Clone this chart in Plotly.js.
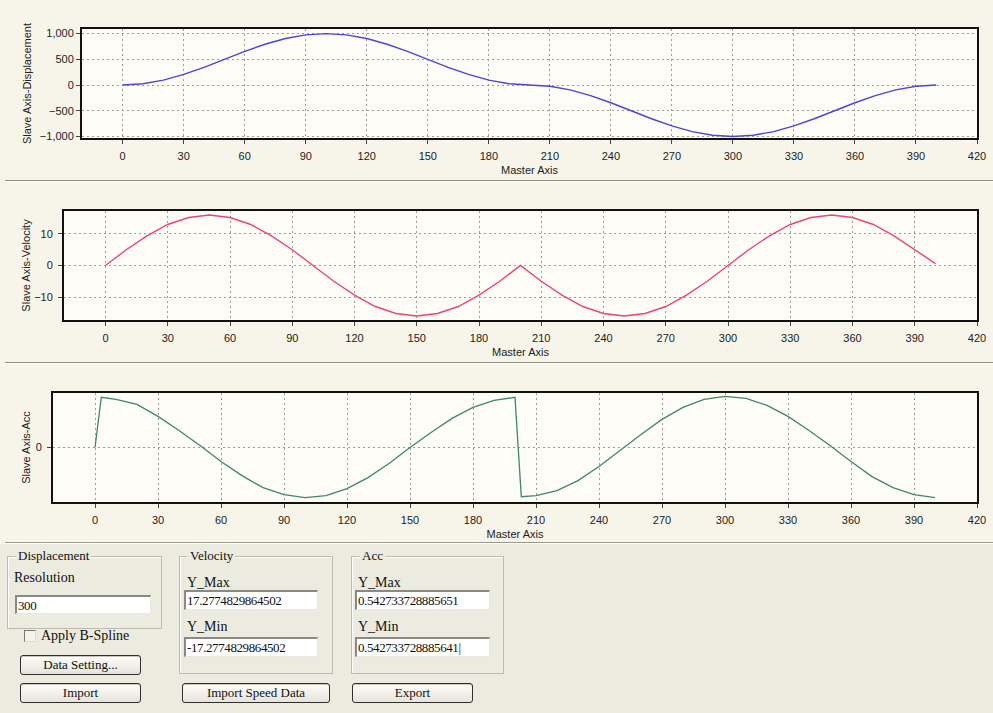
<!DOCTYPE html>
<html>
<head>
<meta charset="utf-8">
<script src="https://cdn.plot.ly/plotly-3.0.1.min.js"></script>
<style>
  html, body { margin:0; padding:0; width:993px; height:713px; overflow:hidden; background:#f7f5e9; }
  #chart { position:absolute; left:0; top:0; width:993px; height:543px; }
  .sep { position:absolute; left:5px; width:988px; height:0; border-top:1px solid #8f8e86; border-bottom:1px solid #ffffff; }
  #panel { position:absolute; left:0; top:544px; width:993px; height:169px; background:#ecebdf; color:#111; }
  #panel, #panel div { font-family:'Liberation Serif', 'Times New Roman', Times, serif; }
  .grp { position:absolute; border:1px solid #bdbbad; box-shadow:1px 1px 0 #fff inset; }
  .gt { position:absolute; top:-9px; left:8px; padding:0 2px; background:#ecebdf; line-height:16px; font-size:13px; }
  .lbl { position:absolute; line-height:16px; font-size:14px; }
  .box { position:absolute; background:#fff; border-top:2px solid #8a8a84; border-left:2px solid #8a8a84; border-bottom:1px solid #e8e8e0; border-right:1px solid #e8e8e0; box-sizing:border-box; padding-left:1px; line-height:17px; font-size:13px; letter-spacing:-0.4px; }
  .btn { position:absolute; box-sizing:border-box; border:1px solid #2f2f2f; border-radius:3px; background:linear-gradient(#fdfdfa, #e6e4da); text-align:center; line-height:17px; font-size:13px; box-shadow:0 1px 0 #c9c7bb inset; }
  .chk { position:absolute; width:10px; height:10px; border-top:1px solid #777; border-left:1px solid #777; border-right:1px solid #ddd; border-bottom:1px solid #ddd; background:#f4f3ec; }
</style>
</head>
<body>
<div id="chart"></div>
<div class="sep" style="top:180px"></div>
<div class="sep" style="top:362px"></div>
<div class="sep" style="top:542px; border-top-color:#9a998f"></div>
<div id="panel">
  <div class="grp" style="left:7px; top:12px; width:153px; height:71px;">
    <div class="gt">Displacement</div>
  </div>
  <div class="lbl" style="left:14px; top:26px;">Resolution</div>
  <div class="box" style="left:15px; top:51px; width:136px; height:19px;">300</div>
  <div class="chk" style="left:24px; top:86px;"></div>
  <div class="lbl" style="left:41px; top:84px;">Apply B-Spline</div>
  <div class="btn" style="left:20px; top:111px; width:121px; height:20px;">Data Setting...</div>
  <div class="btn" style="left:20px; top:139px; width:121px; height:20px;">Import</div>

  <div class="grp" style="left:179px; top:12px; width:152px; height:116px;">
    <div class="gt">Velocity</div>
  </div>
  <div class="lbl" style="left:187px; top:31px;">Y_Max</div>
  <div class="box" style="left:184px; top:46px; width:134px; height:20px;">17.2774829864502</div>
  <div class="lbl" style="left:187px; top:75px;">Y_Min</div>
  <div class="box" style="left:184px; top:93px; width:134px; height:20px;">-17.2774829864502</div>
  <div class="btn" style="left:182px; top:139px; width:148px; height:20px;">Import Speed Data</div>

  <div class="grp" style="left:351px; top:12px; width:151px; height:116px;">
    <div class="gt">Acc</div>
  </div>
  <div class="lbl" style="left:358px; top:31px;">Y_Max</div>
  <div class="box" style="left:355px; top:46px; width:135px; height:20px;">0.542733728885651</div>
  <div class="lbl" style="left:358px; top:75px;">Y_Min</div>
  <div class="box" style="left:355px; top:93px; width:135px; height:20px;">0.542733728885641|</div>
  <div class="btn" style="left:352px; top:139px; width:121px; height:20px;">Export</div>
</div>
<script>
// ---- data ----
const masterX = [0,10,20,30,40,50,60,70,80,90,100,110,120,130,140,150,160,170,180,190,200,
                 210,220,230,240,250,260,270,280,290,300,310,320,330,340,350,360,370,380,390,400];
const displacement = [0,24,95,206,345,500,655,794,905,976,1000,976,905,794,655,500,345,206,95,24,0,
                      -24,-95,-206,-345,-500,-655,-794,-905,-976,-1000,-976,-905,-794,-655,-500,-345,-206,-95,-24,0];
const velocity = [0,5,9.4,13,15.2,16,15.2,13,9.4,5,0,-5,-9.4,-13,-15.2,-16,-15.2,-13,-9.4,-5,0,
                  -5,-9.4,-13,-15.2,-16,-15.2,-13,-9.4,-5,0,5,9.4,13,15.2,16,15.2,13,9.4,5,0.6];
const accX = [0,3,10,20,30,40,50,60,70,80,90,100,110,120,130,140,150,160,170,180,190,200,
              203,210,220,230,240,250,260,270,280,290,300,310,320,330,340,350,360,370,380,390,400];
const acc = [0,0.50,0.48,0.43,0.31,0.17,0.02,-0.14,-0.28,-0.40,-0.47,-0.50,-0.48,-0.41,-0.30,-0.16,0.00,0.15,0.29,0.40,0.47,0.50,
             -0.49,-0.48,-0.43,-0.33,-0.19,-0.03,0.13,0.28,0.40,0.48,0.51,0.49,0.42,0.31,0.17,0.02,-0.14,-0.29,-0.40,-0.47,-0.50];
const velYMax = 17.2774829864502, velYMin = -17.2774829864502;
const accYMax = 0.542733728885651, accYMin = -0.542733728885651;

const H = 543, W = 993;
const fy = (top, bot) => [1 - bot / H, 1 - top / H];
const fx = (l, r) => [l / W, r / W];

const tickFont = {family:'"Liberation Sans", Arial, sans-serif', size:11, color:'#222'};
function xAx(dom, anchor) {
  return {domain: dom, anchor: anchor, range:[-20,420], tick0:0, dtick:30,
    showgrid:true, gridcolor:'#9d9d98', griddash:'2px,3px', gridwidth:1,
    showline:true, mirror:true, linecolor:'#111', linewidth:2,
    ticks:'outside', ticklen:4, tickcolor:'#444', zeroline:false,
    tickfont:tickFont, ticklabelstandoff:3, fixedrange:true,
    title:{text:'Master Axis', font:{family:'"Liberation Sans", Arial, sans-serif', size:11, color:'#222'}, standoff:5}};
}
function yAx(dom, anchor, extra, ttl, standoff) {
  return Object.assign({domain: dom, anchor: anchor,
    showgrid:true, gridcolor:'#9d9d98', griddash:'2px,3px', gridwidth:1,
    showline:true, mirror:true, linecolor:'#111', linewidth:2,
    ticks:'outside', ticklen:4, tickcolor:'#444', zeroline:false,
    tickfont:tickFont, fixedrange:true,
    title:{text:ttl, font:{family:'"Liberation Sans", Arial, sans-serif', size:11, color:'#222'}, standoff:standoff}}, extra);
}

const traces = [
  {x: masterX, y: displacement, xaxis:'x', yaxis:'y', mode:'lines', line:{color:'#4b45dc', width:1.4}, hoverinfo:'skip'},
  {x: masterX, y: velocity, xaxis:'x2', yaxis:'y2', mode:'lines', line:{color:'#e8457a', width:1.4}, hoverinfo:'skip'},
  {x: accX, y: acc, xaxis:'x3', yaxis:'y3', mode:'lines', line:{color:'#3e8a5e', width:1.3}, hoverinfo:'skip'}
];

const layout = {
  width: W, height: H, margin:{l:0,r:0,t:0,b:0},
  paper_bgcolor:'rgba(0,0,0,0)', plot_bgcolor:'#fdfcf6', showlegend:false,
  xaxis: xAx(fx(82,977), 'y'),
  yaxis: yAx(fy(29,138), 'x', {range:[-1030,1090], tickvals:[-1000,-500,0,500,1000], tickformat:','}, 'Slave Axis-Displacement', 6),
  xaxis2: xAx(fx(64,977), 'y2'),
  yaxis2: yAx(fy(211,320), 'x2', {range:[velYMin, velYMax], tickvals:[-10,0,10], ticklabelstandoff:3}, 'Slave Axis-Velocity', 1),
  xaxis3: xAx(fx(53,977), 'y3'),
  yaxis3: yAx(fy(393,502), 'x3', {range:[accYMin, accYMax], tickvals:[0], ticklabelstandoff:3}, 'Slave Axis-Acc', 3)
};

Plotly.newPlot('chart', traces, layout, {displayModeBar:false, staticPlot:true});
</script>
</body>
</html>
